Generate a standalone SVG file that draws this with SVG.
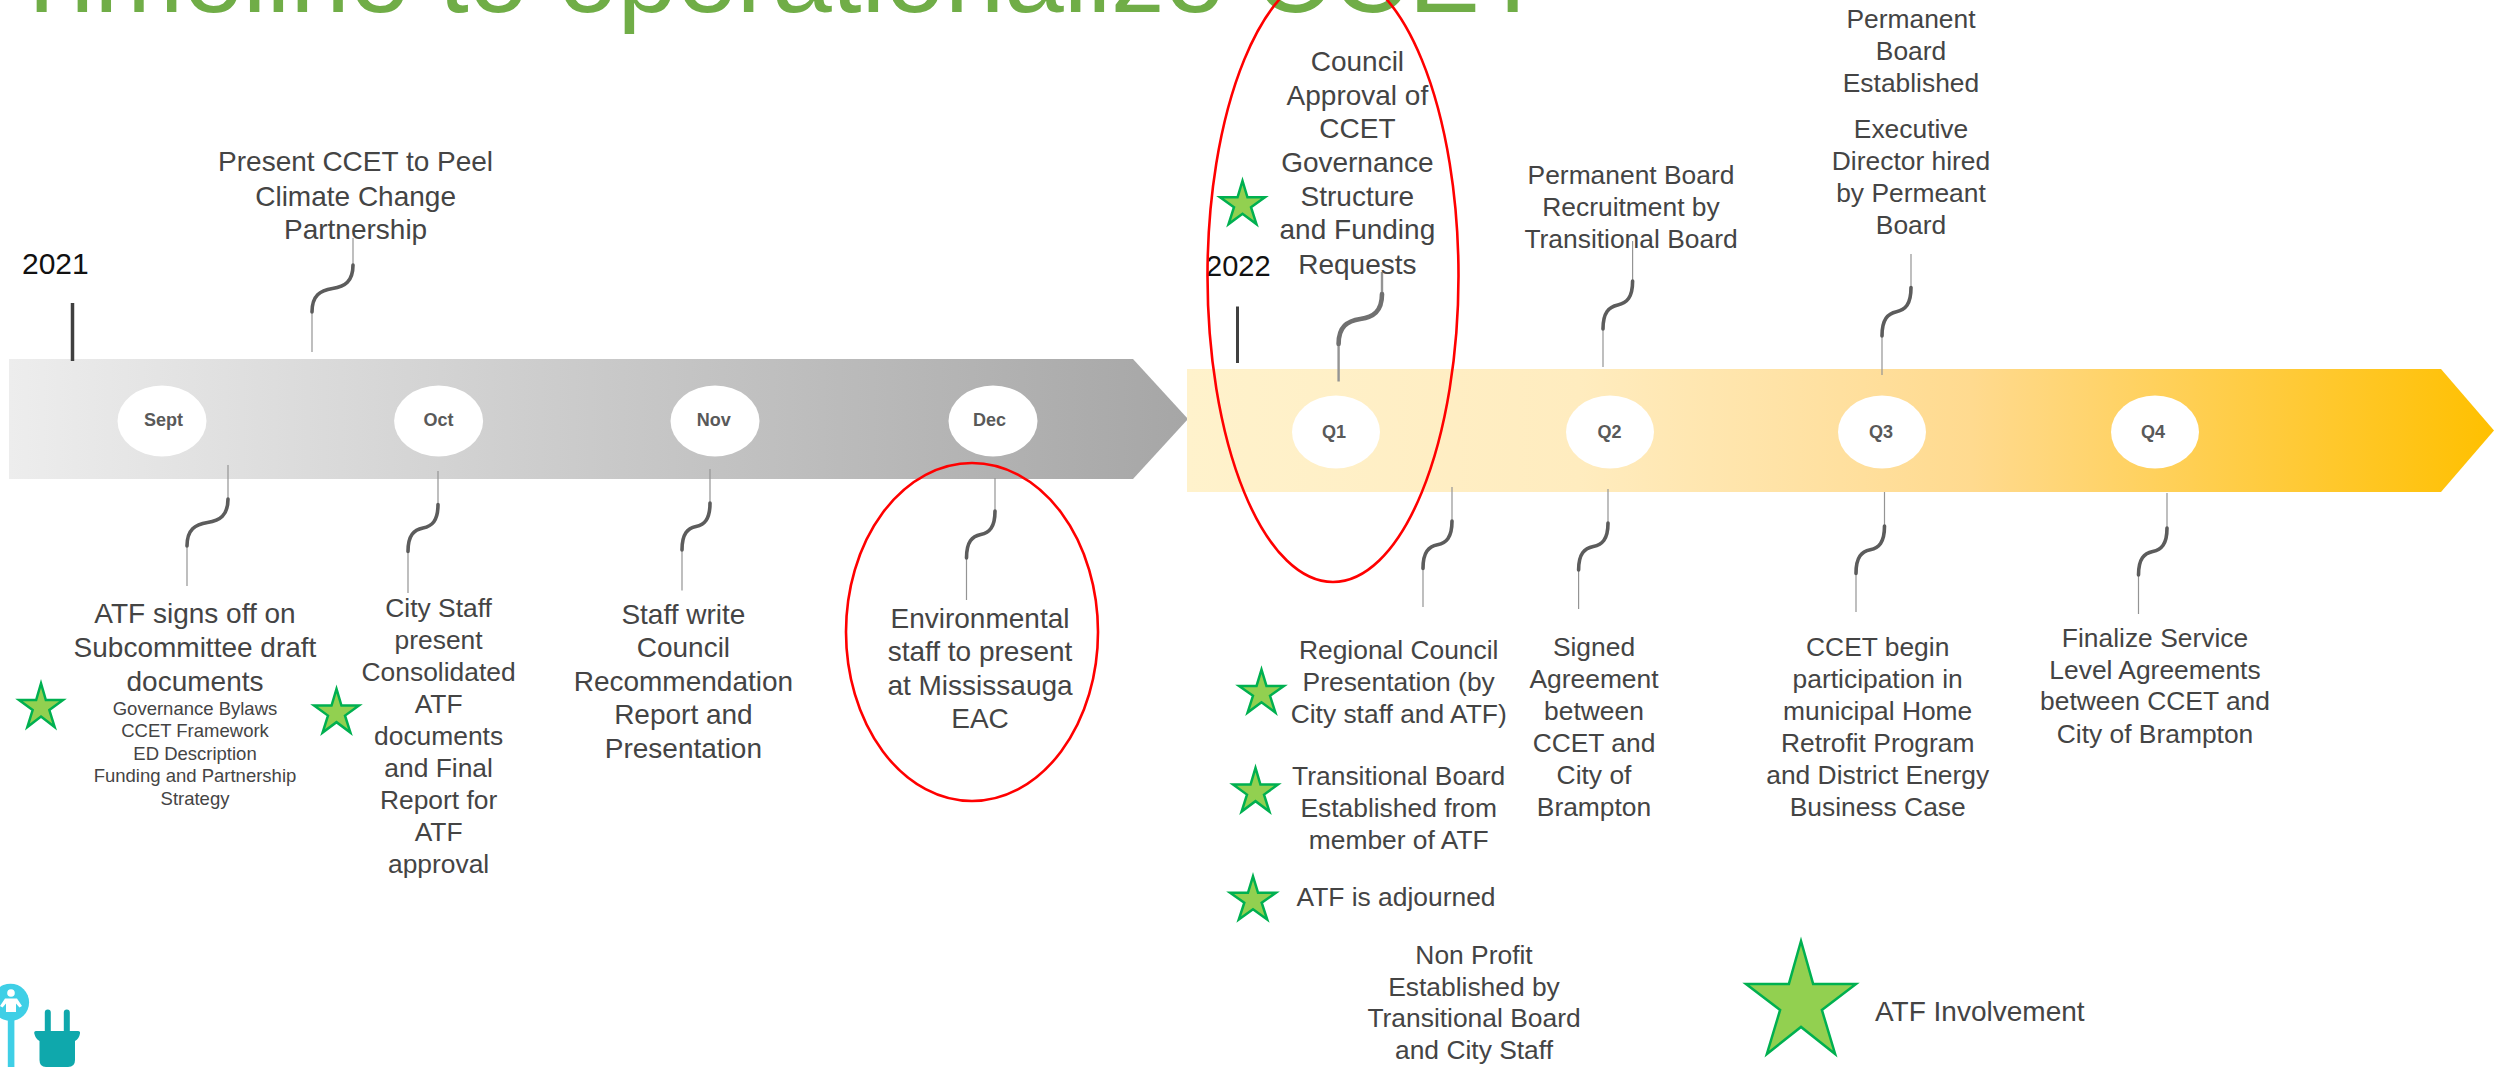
<svg xmlns="http://www.w3.org/2000/svg" width="2494" height="1067" viewBox="0 0 2494 1067">
<style>
text{font-family:"Liberation Sans",Arial,sans-serif;fill:#444}
.c{text-anchor:middle}
.t28{font-size:28px}
.t26{font-size:26.4px}
.t18{font-size:18.5px}
.m{font-size:18px;font-weight:bold;fill:#595959;text-anchor:middle}
.y{font-size:30px;fill:#111}
.title{font-size:107px;fill:#70AD47}
.oval{fill:#fff}
.thin{fill:none;stroke:#949494;stroke-width:1.2}
.curve{fill:none;stroke:#5c5c5c;stroke-width:3.6;stroke-linecap:round}
.tick{stroke:#404040;stroke-width:3.5}
.ring{fill:none;stroke:#f00;stroke-width:2.6}
.star{fill:#92D050;stroke:#00B050;stroke-width:2.5;vector-effect:non-scaling-stroke}
</style>
<defs>
<linearGradient id="g1" x1="0" y1="0" x2="1" y2="0"><stop offset="0" stop-color="#EDEDED"/><stop offset="1" stop-color="#A6A6A6"/></linearGradient>
<linearGradient id="g2" x1="0" y1="0" x2="1" y2="0"><stop offset="0" stop-color="#FFF2CC"/><stop offset=".3" stop-color="#FFECBF"/><stop offset=".6" stop-color="#FFDA8F"/><stop offset="1" stop-color="#FFC000"/></linearGradient>
<polygon id="star" class="star" points="50,6 59.700,39.400 94,39.400 66.700,59.700 77.300,94 50,72.900 22.700,94 33.300,59.700 6,39.400 40.300,39.400"/>
</defs>
<rect width="2494" height="1067" fill="#fff"/>
<text class="title" x="9" y="12">Timeline to operationalize CCET</text>

<g id="arrow-2021"><polygon points="9,359 1133,359 1188,419 1133,479 9,479" fill="url(#g1)"/></g>
<g id="arrow-2022"><polygon points="1187,369 2441,369 2494,430.5 2441,492 1187,492" fill="url(#g2)"/></g>

<g id="year-2021"><text class="y" x="22" y="274">2021</text><line class="tick" x1="72.5" y1="303" x2="72.5" y2="361"/></g>
<g id="year-2022"><text class="y" x="1206" y="275.5" style="font-size:29px">2022</text><line class="tick" style="stroke-width:3" x1="1237.5" y1="306.5" x2="1237.5" y2="363"/></g>

<g id="connectors">
<path class="thin" d="M353 238V265M312 312V352"/><path class="curve" d="M353 265c0,16.5 -8.2,21.6 -20.5,23.5s-20.5,7 -20.5,23.5"/>
<path class="thin" d="M228 465V499M187 546V586"/><path class="curve" d="M228 499c0,16.5 -8.2,21.6 -20.5,23.5s-20.5,7 -20.5,23.5"/>
<path class="thin" d="M438 471V504.5M408 551.5V593"/><path class="curve" d="M438 504.5c0,16.5 -6,21.6 -15,23.5s-15,7 -15,23.5"/>
<path class="thin" d="M710 469V503M682 550V590.5"/><path class="curve" d="M710 503c0,16.5 -5.6,21.6 -14,23.5s-14,7 -14,23.5"/>
<path class="thin" d="M995 478V511M966.5 558V600"/><path class="curve" d="M995 511c0,16.5 -5.7,21.6 -14.25,23.5s-14.25,7 -14.25,23.5"/>
<path class="thin" style="stroke-width:2.4" d="M1382 272V294M1338.6 344V381.5"/><path class="curve" style="stroke:#707070;stroke-width:4.6" d="M1382 294c0,17.5 -8.7,23 -21.7,25s-21.7,7.500 -21.7,25"/>
<path class="thin" d="M1632.6 241V281M1603 329V367"/><path class="curve" d="M1632.6 281c0,16.8 -5.9,22 -14.8,24s-14.8,7.2 -14.8,24"/>
<path class="thin" d="M1911 254V287.5M1882 336V375"/><path class="curve" d="M1911 287.5c0,17 -5.8,22.3 -14.5,24.25s-14.5,7.3 -14.5,24.25"/>
<path class="thin" d="M1452 487V521M1423 568.5V607"/><path class="curve" d="M1452 521c0,16.6 -5.8,21.9 -14.5,23.75s-14.5,7.1 -14.5,23.75"/>
<path class="thin" d="M1608 489V523M1578.6 570V609"/><path class="curve" d="M1608 523c0,16.5 -5.9,21.6 -14.7,23.5s-14.7,7 -14.7,23.5"/>
<path class="thin" d="M1884.5 492V526M1856 573.5V612"/><path class="curve" d="M1884.5 526c0,16.6 -5.7,21.9 -14.25,23.75s-14.25,7.1 -14.25,23.75"/>
<path class="thin" d="M2167 493V528M2138.5 575V614"/><path class="curve" d="M2167 528c0,16.5 -5.7,21.6 -14.25,23.5s-14.25,7 -14.25,23.5"/>
</g>

<g id="sept"><ellipse class="oval" cx="162" cy="421" rx="44.5" ry="35.5"/><text class="m" x="163.5" y="426">Sept</text></g>
<g id="oct"><ellipse class="oval" cx="438.6" cy="421" rx="44.5" ry="35.5"/><text class="m" x="438.6" y="426">Oct</text></g>
<g id="nov"><ellipse class="oval" cx="715" cy="421" rx="44.5" ry="35.5"/><text class="m" x="713.7" y="426">Nov</text></g>
<g id="dec"><ellipse class="oval" cx="993" cy="421" rx="44.5" ry="35.5"/><text class="m" x="989.6" y="426">Dec</text></g>
<g id="q1"><ellipse class="oval" cx="1336" cy="432" rx="44" ry="36.5"/><text class="m" x="1334" y="438">Q1</text></g>
<g id="q2"><ellipse class="oval" cx="1610" cy="432" rx="44" ry="36.5"/><text class="m" x="1609.4" y="438">Q2</text></g>
<g id="q3"><ellipse class="oval" cx="1882" cy="432" rx="44" ry="36.5"/><text class="m" x="1881" y="438">Q3</text></g>
<g id="q4"><ellipse class="oval" cx="2155" cy="432" rx="44" ry="36.5"/><text class="m" x="2153" y="438">Q4</text></g>

<g id="present-ccet"><text class="c t28"><tspan x="355.6" y="171">Present CCET to Peel</tspan><tspan x="355.6" y="206">Climate Change</tspan><tspan x="355.6" y="239">Partnership</tspan></text></g>

<g id="atf-signs"><text class="c t28"><tspan x="195" y="623">ATF signs off on</tspan><tspan x="195" y="656.500">Subcommittee draft</tspan><tspan x="195" y="690.500">documents</tspan></text>
<text class="c t18"><tspan x="195" y="715">Governance Bylaws</tspan><tspan x="195" y="737.3">CCET Framework</tspan><tspan x="195" y="759.5">ED Description</tspan><tspan x="195" y="782">Funding and Partnership</tspan><tspan x="195" y="804.5">Strategy</tspan></text>
<use href="#star" transform="translate(16 680.5) scale(.5 .495)"/></g>

<g id="city-staff"><text class="c t26"><tspan x="438.6" y="616.6">City Staff</tspan><tspan x="438.6" y="648.7">present</tspan><tspan x="438.6" y="680.8">Consolidated</tspan><tspan x="438.6" y="712.8">ATF</tspan><tspan x="438.6" y="745">documents</tspan><tspan x="438.6" y="777">and Final</tspan><tspan x="438.6" y="809">Report for</tspan><tspan x="438.6" y="841">ATF</tspan><tspan x="438.6" y="873">approval</tspan></text>
<use href="#star" transform="translate(311 686) scale(.51 .496)"/></g>

<g id="staff-write"><text class="c t28"><tspan x="683.4" y="623.500">Staff write</tspan><tspan x="683.4" y="656.6">Council</tspan><tspan x="683.4" y="690.500">Recommendation</tspan><tspan x="683.4" y="724">Report and</tspan><tspan x="683.4" y="757.5">Presentation</tspan></text></g>

<g id="environmental"><text class="c t28"><tspan x="980" y="628">Environmental</tspan><tspan x="980" y="661">staff to present</tspan><tspan x="980" y="694.6">at Mississauga</tspan><tspan x="980" y="728">EAC</tspan></text>
<ellipse class="ring" cx="972" cy="632" rx="126" ry="169"/></g>

<g id="council-approval"><text class="c t28"><tspan x="1357.4" y="71">Council</tspan><tspan x="1357.4" y="105">Approval of</tspan><tspan x="1357.4" y="138.4">CCET</tspan><tspan x="1357.4" y="172">Governance</tspan><tspan x="1357.4" y="205.6">Structure</tspan><tspan x="1357.4" y="239">and Funding</tspan><tspan x="1357.4" y="274">Requests</tspan></text>
<use href="#star" transform="translate(1217 178) scale(.51 .49)"/>
<ellipse class="ring" cx="1333" cy="276" rx="125.5" ry="306"/></g>

<g id="recruitment"><text class="c t26"><tspan x="1631" y="183.5">Permanent Board</tspan><tspan x="1631" y="216">Recruitment by</tspan><tspan x="1631" y="248">Transitional Board</tspan></text></g>
<g id="permanent-board"><text class="c t26"><tspan x="1911" y="27.5">Permanent</tspan><tspan x="1911" y="59.6">Board</tspan><tspan x="1911" y="91.6">Established</tspan></text></g>
<g id="executive-director"><text class="c t26"><tspan x="1911" y="137.7">Executive</tspan><tspan x="1911" y="169.8">Director hired</tspan><tspan x="1911" y="201.8">by Permeant</tspan><tspan x="1911" y="233.5">Board</tspan></text></g>

<g id="regional-council"><text class="c t26"><tspan x="1398.7" y="658.6">Regional Council</tspan><tspan x="1398.7" y="690.6">Presentation (by</tspan><tspan x="1398.7" y="722.5">City staff and ATF)</tspan></text>
<use href="#star" transform="translate(1236 666.7) scale(.51 .488)"/></g>
<g id="transitional-board"><text class="c t26"><tspan x="1398.7" y="784.7">Transitional Board</tspan><tspan x="1398.7" y="816.6">Established from</tspan><tspan x="1398.7" y="848.6">member of ATF</tspan></text>
<use href="#star" transform="translate(1230 765) scale(.51 .496)"/></g>
<g id="atf-adjourned"><text class="c t26" x="1396" y="905.7">ATF is adjourned</text>
<use href="#star" transform="translate(1227 873.4) scale(.52 .491)"/></g>

<g id="signed-agreement"><text class="c t26"><tspan x="1594" y="656">Signed</tspan><tspan x="1594" y="688">Agreement</tspan><tspan x="1594" y="720">between</tspan><tspan x="1594" y="752">CCET and</tspan><tspan x="1594" y="784">City of</tspan><tspan x="1594" y="815.6">Brampton</tspan></text></g>
<g id="ccet-begin"><text class="c t26"><tspan x="1877.7" y="656">CCET begin</tspan><tspan x="1877.7" y="688">participation in</tspan><tspan x="1877.7" y="720">municipal Home</tspan><tspan x="1877.7" y="752">Retrofit Program</tspan><tspan x="1877.7" y="784">and District Energy</tspan><tspan x="1877.7" y="816">Business Case</tspan></text></g>
<g id="finalize"><text class="c t26"><tspan x="2155" y="647">Finalize Service</tspan><tspan x="2155" y="678.5">Level Agreements</tspan><tspan x="2155" y="710.4">between CCET and</tspan><tspan x="2155" y="742.7">City of Brampton</tspan></text></g>
<g id="non-profit"><text class="c t26"><tspan x="1474" y="964">Non Profit</tspan><tspan x="1474" y="996">Established by</tspan><tspan x="1474" y="1027.4">Transitional Board</tspan><tspan x="1474" y="1059.3">and City Staff</tspan></text></g>
<g id="legend"><use href="#star" transform="translate(1738.5 933.3) scale(1.25 1.284)"/><text class="t28" x="1875" y="1020.7">ATF Involvement</text></g>

<g id="icons">
<rect x="7.8" y="1015" width="6.6" height="52" fill="#3FCFE6"/>
<circle cx="10.5" cy="1002.3" r="18.6" fill="#3FCFE6"/>
<circle cx="11" cy="993" r="3.8" fill="#fff"/>
<path d="M5 998.5H17L22 1006L19.500 1007.500L16 1003.500V1012H6V1003.500L2.500 1007.500L0 1006Z" fill="#fff"/>
<path d="M44.800 1012.500a3 3 0 0 1 6 0V1031H44.800ZM63.800 1012.500a3 3 0 0 1 6 0V1031H63.800Z" fill="#0FA8AC"/>
<path d="M36 1031H78Q80.500 1031 80 1033.500Q79 1039 75 1041V1060Q75 1067 68 1067H46Q39.500 1067 39.500 1060V1041Q35.500 1039 34.300 1033.500Q33.800 1031 36 1031Z" fill="#0FA8AC"/>
</g>
</svg>
